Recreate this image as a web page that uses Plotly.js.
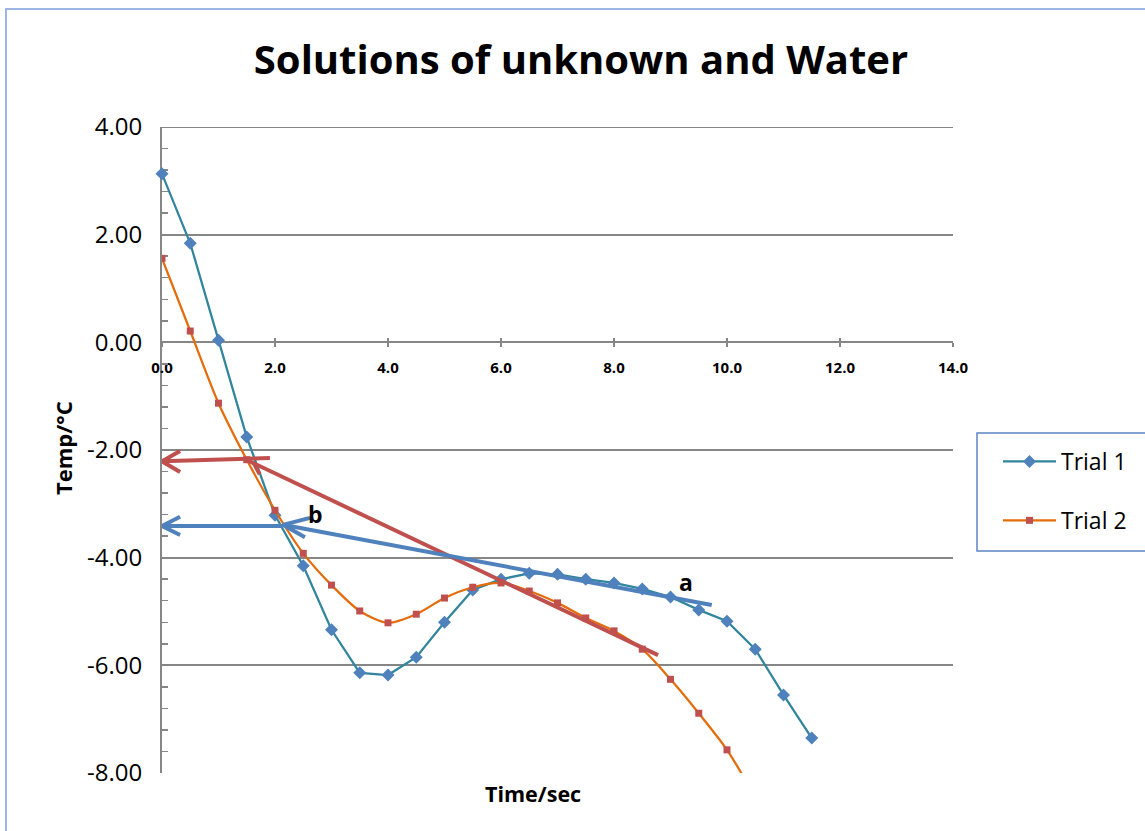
<!DOCTYPE html>
<html>
<head>
<meta charset="utf-8">
<script src="https://cdn.plot.ly/plotly-3.0.1.min.js"></script>
<style>html,body{margin:0;padding:0;background:#fff;}#chart{width:1145px;height:831px;}</style>
</head>
<body>
<div id="chart"></div>
<script>
// ---- data ----
const time1 = [0,0.5,1,1.5,2,2.5,3,3.5,4,4.5,5,5.5,6,6.5,7,7.5,8,8.5,9,9.5,10,10.5,11,11.5];
const trial1 = [3.13,1.84,0.04,-1.76,-3.21,-4.15,-5.34,-6.14,-6.18,-5.85,-5.20,-4.60,-4.40,-4.29,-4.31,-4.40,-4.47,-4.58,-4.73,-4.97,-5.18,-5.70,-6.55,-7.35];
const time2 = [0,0.5,1,1.5,2,2.5,3,3.5,4,4.5,5,5.5,6,6.5,7,7.5,8,8.5,9,9.5,10,10.5];
const trial2 = [1.56,0.21,-1.13,-2.18,-3.12,-3.92,-4.51,-4.99,-5.21,-5.05,-4.75,-4.55,-4.47,-4.62,-4.84,-5.12,-5.36,-5.70,-6.26,-6.89,-7.57,-8.45];
const seriesNames = ["Trial 1","Trial 2"];
const yTicks = [-8,-6,-4,-2,0,2,4];
const yTickText = ["-8.00","-6.00","-4.00","-2.00","0.00","2.00","4.00"];
const xTicks = [0,2,4,6,8,10,12,14];
const xTickText = ["0.0","2.0","4.0","6.0","8.0","10.0","12.0","14.0"];
// hand-drawn annotation lines (data units): [x0,y0,x1,y1]
const redLines = [[1.47,-2.17,8.78,-5.81],[0,-2.21,1.91,-2.15],[0,-2.21,0.32,-2.02],[0,-2.21,0.32,-2.41],[1.61,-2.22,1.73,-2.45]];
const blueLines = [[2.14,-3.39,9.73,-4.88],[2.14,-3.39,2.62,-3.26],[2.14,-3.39,2.53,-3.62],[0,-3.41,2.14,-3.41],[0,-3.41,0.32,-3.24],[0,-3.41,0.32,-3.58]];
const labelText = ["b","a"];
const labelX = [2.71,9.27];
const labelY = [-3.18,-4.45];

const FONT = "'Open Sans', 'Noto Sans', sans-serif";

const traces = [
  {x: time1, y: trial1, name: seriesNames[0], type:'scatter', mode:'lines+markers', legendgroup:'g1',
   cliponaxis:false,
   line:{color:'#31859C', width:2.25},
   marker:{symbol:'diamond', size:10, color:'#4F81BD'}},
  {x: time2, y: trial2, name: seriesNames[1], type:'scatter', mode:'lines+markers', legendgroup:'g2',
   line:{color:'#E46C0A', width:2.25, shape:'spline', smoothing:0.8},
   marker:{symbol:'square', size:7, color:'#C0504D'}},
  // dummy trace on overlay axis to show crossing ticks
  {x:[0], y:[0], xaxis:'x2', showlegend:false, mode:'markers', marker:{opacity:0}, hoverinfo:'skip'}
];

const shapes = [];
// top gridline at 4.00
shapes.push({type:'line', xref:'paper', yref:'y', x0:0, x1:1, y0:4, y1:4, line:{color:'#868686', width:2}, layer:'below'});
redLines.forEach(l => shapes.push({type:'line', xref:'x', yref:'y', x0:l[0], y0:l[1], x1:l[2], y1:l[3], line:{color:'#C0504D', width:4}}));
blueLines.forEach(l => shapes.push({type:'line', xref:'x', yref:'y', x0:l[0], y0:l[1], x1:l[2], y1:l[3], line:{color:'#4F81BD', width:4}}));
// outer chart border
shapes.push({type:'rect', xref:'paper', yref:'paper', x0:(6-162)/791, x1:(1200-162)/791, y0:(773-900)/646, y1:(773-9)/646, line:{color:'#9BB5E5', width:2}, layer:'below'});
// legend box
shapes.push({type:'rect', xref:'paper', yref:'paper', x0:(977-162)/791, x1:(1160-162)/791, y0:(773-551)/646, y1:(773-433)/646, line:{color:'#5B86C5', width:1.5}});

const annotations = labelText.map((t,i)=>({x:labelX[i], y:labelY[i], xref:'x', yref:'y', text:'<b>'+t+'</b>', showarrow:false, font:{family:FONT, size:23, color:'#000'}}));
annotations.push({xref:'paper', yref:'paper', x:(533-162)/791, y:(773-793)/646, text:'<b>Time/sec</b>', showarrow:false, font:{family:FONT, size:21.5, color:'#000'}, xanchor:'center', yanchor:'middle'});
annotations.push({xref:'paper', yref:'paper', x:(63-162)/791, y:(773-448)/646, text:'<b>Temp/°C</b>', textangle:-90, showarrow:false, font:{family:FONT, size:22, color:'#000'}, xanchor:'center', yanchor:'middle'});

const layout = {
  width:1145, height:831,
  margin:{l:162, r:192, t:127, b:58, pad:0},
  paper_bgcolor:'#fff', plot_bgcolor:'#fff',
  title:{text:'<b>Solutions of unknown and Water</b>', x:581/1145, xanchor:'center', y:1-60/831, yanchor:'middle', font:{family:FONT, size:40, color:'#000'}},
  showlegend:true,
  legend:{x:(998-162)/791, xanchor:'left', y:(773-440)/646, yanchor:'top', bgcolor:'rgba(0,0,0,0)', borderwidth:0,
          font:{family:FONT, size:23, color:'#000'}, tracegroupgap:26, itemwidth:53},
  xaxis:{range:[0,14], tickvals:xTicks, ticktext:xTickText, showgrid:false, zeroline:false, layer:'below traces',
         showline:true, linecolor:'#868686', linewidth:2, anchor:'free', position:8/12,
         ticks:'outside', ticklen:4, tickwidth:2, tickcolor:'#868686', ticklabelstandoff:8,
         tickfont:{family:FONT, size:15, color:'#000', weight:'bold'}},
  xaxis2:{range:[0,14], tickvals:xTicks, overlaying:'x', anchor:'free', position:8/12, showticklabels:false, layer:'below traces',
          showgrid:false, zeroline:false, showline:false, ticks:'inside', ticklen:4, tickwidth:2, tickcolor:'#868686'},
  yaxis:{range:[-8,4], tickvals:yTicks, ticktext:yTickText, showgrid:true, gridcolor:'#868686', gridwidth:2,
         zeroline:false, showline:true, linecolor:'#868686', linewidth:2, layer:'below traces',
         ticks:'inside', ticklen:7, tickwidth:2, tickcolor:'#868686', ticklabelstandoff:13,
         minor:{dtick:0.4, tick0:0, ticks:'inside', ticklen:6, tickwidth:1.5, tickcolor:'#868686', showgrid:false},
         tickfont:{family:FONT, size:24, color:'#000'}},
  shapes:shapes,
  annotations:annotations
};

Plotly.newPlot('chart', traces, layout, {displayModeBar:false, staticPlot:true});
</script>
</body>
</html>
